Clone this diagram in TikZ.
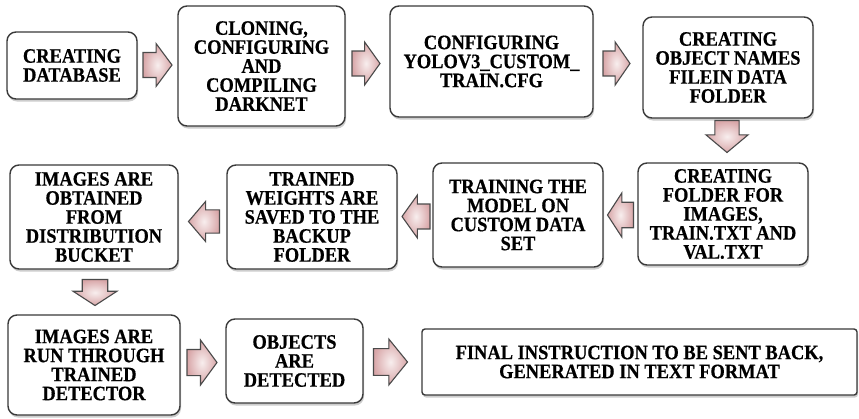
\documentclass[tikz,border=0pt]{standalone}
\usepackage{fontspec}
\setmainfont{Liberation Serif}
\newfontfamily\boxfont{Liberation Serif Bold}[FakeStretch=0.9, FakeBold=0.5]
\usetikzlibrary{shadows}
\definecolor{boxline}{HTML}{3A3A3A}
\definecolor{arrline}{HTML}{4A4A4A}
\definecolor{pinkin}{HTML}{F8EEEE}
\definecolor{pinkout}{HTML}{D8A6A8}
% block arrow: #1 name, #2 centre, #3 angle, #4 length, #5 width
\newcommand\blockarr[5]{%
  \coordinate (#1) at #2;
  \begin{scope}[shift={(#1)}, rotate=#3]
    \path[barrow] ({-#4/2},{-0.29*#5}) -- ({#4/2-0.55*#4},{-0.29*#5}) -- ({#4/2-0.55*#4},{-#5/2})
      -- ({#4/2},0) -- ({#4/2-0.55*#4},{#5/2}) -- ({#4/2-0.55*#4},{0.29*#5}) -- ({-#4/2},{0.29*#5}) -- cycle;
  \end{scope}}
\begin{document}
\begin{tikzpicture}[x=1pt,y=-1pt,
  box/.style={draw=boxline, line width=1.4pt, rounded corners=9pt, fill=white,
    align=center, inner sep=0pt, font=\fontsize{20.5}{19}\selectfont\boxfont,
    drop shadow={shadow xshift=1pt, shadow yshift=-2.5pt, opacity=0.28, fill=black!70}},
  barrow/.style={draw=arrline, line width=1.1pt, line join=miter,
    inner color=pinkin, outer color=pinkout}]
\useasboundingbox[fill=white] (0,0) rectangle (859,418);

% boxes
\node[box, minimum width=130pt, minimum height=67pt] (b1) at (72,65.5) {CREATING\\DATABASE};
\node[box, minimum width=167pt, minimum height=120pt] (b2) at (261.5,66) {CLONING,\\CONFIGURING\\AND\\COMPILING\\DARKNET};
\node[box, minimum width=203pt, minimum height=111pt] (b3) at (491.5,61.5) {CONFIGURING\\YOLOV3\_CUSTOM\_\\TRAIN.CFG};
\node[box, minimum width=170pt, minimum height=101pt] (b4) at (728,67.5) {CREATING\\OBJECT NAMES\\FILEIN DATA\\FOLDER};
\node[box, minimum width=170pt, minimum height=102pt] (b5) at (723,214) {CREATING\\FOLDER FOR\\IMAGES,\\TRAIN.TXT AND\\VAL.TXT};
\node[box, minimum width=170pt, minimum height=104pt] (b6) at (518,215) {TRAINING THE\\MODEL ON\\CUSTOM DATA\\SET};
\node[box, minimum width=170pt, minimum height=104pt] (b7) at (312,217) {TRAINED\\WEIGHTS ARE\\SAVED TO THE\\BACKUP\\FOLDER};
\node[box, minimum width=168pt, minimum height=104pt] (b8) at (94,217) {IMAGES ARE\\OBTAINED\\FROM\\DISTRIBUTION\\BUCKET};
\node[box, minimum width=172pt, minimum height=100pt] (b9) at (94,365) {IMAGES ARE\\RUN THROUGH\\TRAINED\\DETECTOR};
\node[box, minimum width=137pt, minimum height=84pt] (b10) at (294.5,361) {OBJECTS\\ARE\\DETECTED};
\node[box, rounded corners=3pt, minimum width=435pt, minimum height=66pt] (b11) at (639.5,362) {FINAL INSTRUCTION TO BE SENT BACK,\\GENERATED IN TEXT FORMAT};

% block arrows
\blockarr{a1}{(157.5,65)}{0}{29}{43}
\blockarr{a2}{(366,63.5)}{0}{28}{43}
\blockarr{a3}{(616.5,63.5)}{0}{27}{43}
\blockarr{a4}{(727,136.5)}{-90}{32}{42}
\blockarr{a5}{(620.5,215)}{180}{26}{44}
\blockarr{a6}{(416,216.5)}{180}{28}{43}
\blockarr{a7}{(204,221.5)}{180}{31}{40}
\blockarr{a8}{(95,292.5)}{-90}{26}{44}
\blockarr{a9}{(202,362.5)}{0}{30}{45}
\blockarr{a10}{(390.5,362)}{0}{34}{46}
\end{tikzpicture}
\end{document}
